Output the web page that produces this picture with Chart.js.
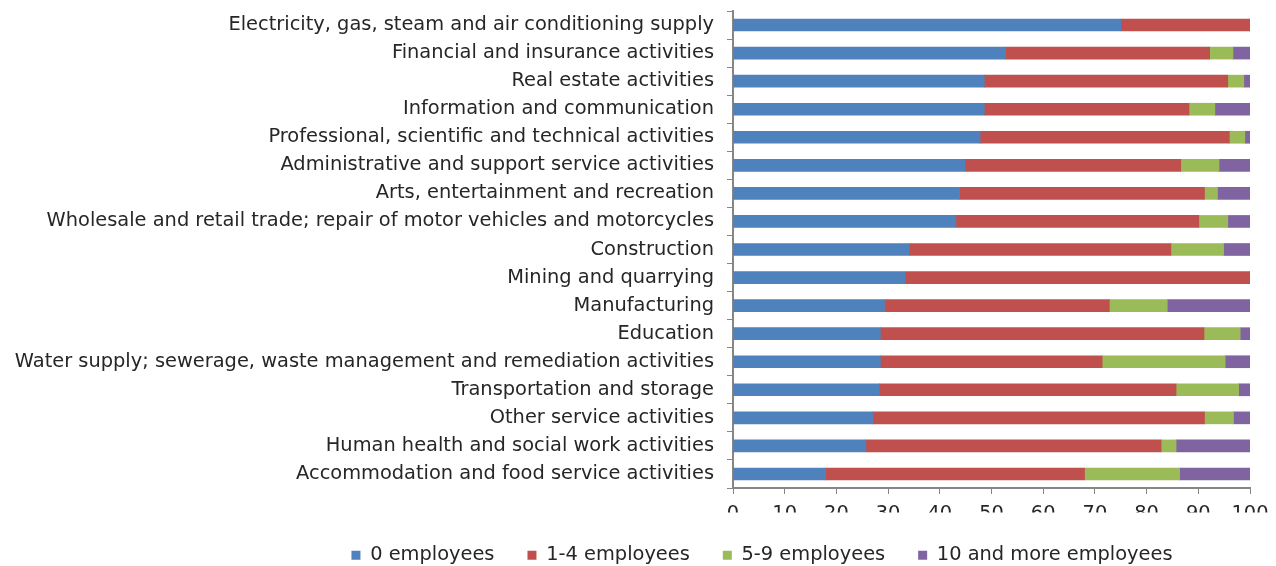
<!DOCTYPE html>
<html>
<head>
<meta charset="utf-8">
<script src="https://cdn.jsdelivr.net/npm/chart.js@4/dist/chart.umd.min.js"></script>
<style>
  html, body { margin: 0; padding: 0; background: #fff; }
  #wrap { width: 1276px; height: 566px; }
</style>
</head>
<body>
<div id="wrap"><canvas id="myChart"></canvas></div>
<script>
// categories, top to bottom
const labels = [
    'Electricity, gas, steam and air conditioning supply',
    'Financial and insurance activities',
    'Real estate activities',
    'Information and communication',
    'Professional, scientific and technical activities',
    'Administrative and support service activities',
    'Arts, entertainment and recreation',
    'Wholesale and retail trade; repair of motor vehicles and motorcycles',
    'Construction',
    'Mining and quarrying',
    'Manufacturing',
    'Education',
    'Water supply; sewerage, waste management and remediation activities',
    'Transportation and storage',
    'Other service activities',
    'Human health and social work activities',
    'Accommodation and food service activities',
];

// shares in percent, one value per category
const zeroEmployees = [75.0, 52.7, 48.6, 48.6, 47.8, 44.9, 43.8, 43.1, 34.1, 33.3, 29.3, 28.5, 28.5, 28.3, 27.0, 25.7, 17.9];
const oneToFour = [25.0, 39.5, 47.1, 39.6, 48.2, 41.7, 47.4, 47.0, 50.6, 66.7, 43.5, 62.6, 42.9, 57.4, 64.2, 57.1, 50.1];
const fiveToNine = [0, 4.5, 3.1, 5.0, 3.0, 7.4, 2.5, 5.6, 10.2, 0, 11.2, 7.0, 23.8, 12.1, 5.6, 2.9, 18.4];
const tenAndMore = [0, 3.3, 1.2, 6.8, 1.0, 6.0, 6.3, 4.3, 5.1, 0, 16.0, 1.9, 4.8, 2.2, 3.2, 14.3, 13.6];

const xTicks = [0, 10, 20, 30, 40, 50, 60, 70, 80, 90, 100];

Chart.defaults.font.family = '"DejaVu Sans", Verdana, sans-serif';
Chart.defaults.font.size = 19.4;
Chart.defaults.color = '#262626';

// plot area edges in the picture
const plotLeft = 733;
const plotBottom = 488;
const bottomPad = -9;

function bar(label, values, color) {
    return {
        label: label,
        data: values,
        backgroundColor: color,
        borderWidth: 0,
        barThickness: 12,
    };
}

// the legend is not centred on the canvas in the original, push it right
const moveLegend = {
    id: 'moveLegend',
    afterLayout(chart) {
        chart.legend.left += 137;
        chart.legend.right += 137;
    }
};

const data = {
    labels: labels,
    datasets: [
        bar('0 employees', zeroEmployees, '#4F81BD'),
        bar('1-4 employees', oneToFour, '#C0504D'),
        bar('5-9 employees', fiveToNine, '#9BBB59'),
        bar('10 and more employees', tenAndMore, '#8064A2'),
    ]
};

const config = {
    type: 'bar',
    data: data,
    plugins: [moveLegend],
    options: {
        indexAxis: 'y',
        responsive: true,
        maintainAspectRatio: false,
        animation: false,
        layout: { padding: { top: 11, right: 26, left: 0, bottom: bottomPad } },
        scales: {
            x: {
                stacked: true,
                min: 0,
                max: 100,
                afterBuildTicks: function (scale) {
                    scale.ticks = xTicks.map(v => ({ value: v }));
                },
                afterFit: function (scale) {
                    scale.height = scale.chart.height - bottomPad - scale.chart.legend.height - plotBottom;
                    scale.paddingLeft = 0;
                    scale.paddingRight = 0;
                },
                grid: { drawOnChartArea: false, tickLength: 6, color: '#868686' },
                border: { color: '#868686', width: 2 },
                ticks: { padding: 8 },
            },
            y: {
                stacked: true,
                afterFit: function (scale) {
                    scale.width = plotLeft;
                    scale.paddingTop = 0;
                    scale.paddingBottom = 0;
                },
                grid: { drawOnChartArea: false, tickLength: 6, color: '#868686', offset: true },
                border: { color: '#868686', width: 2 },
                ticks: { padding: 13, autoSkip: false },
            }
        },
        plugins: {
            legend: {
                position: 'bottom',
                labels: { boxWidth: 9, boxHeight: 9, padding: 33 }
            },
            tooltip: { enabled: false }
        }
    }
};

const myChart = new Chart(document.getElementById('myChart'), config);
</script>
</body>
</html>
